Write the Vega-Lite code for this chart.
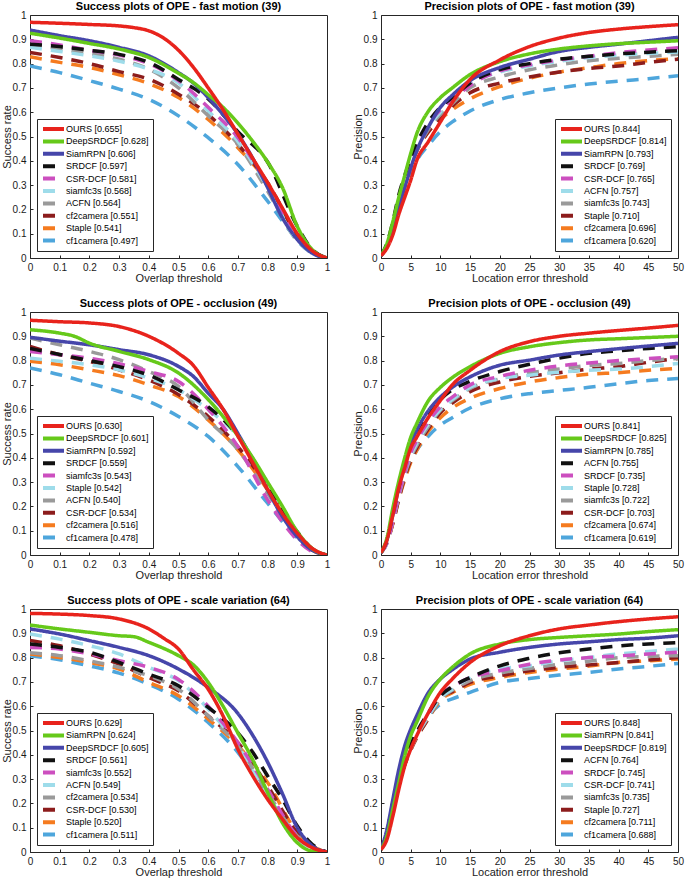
{
"$schema": "https://vega.github.io/schema/vega-lite/v6.json",
"padding": {"left": 0, "top": 0, "right": 0, "bottom": 0},
"config": {
  "font": "Liberation Sans",
  "view": {"stroke": "#262626", "strokeWidth": 1},
  "axis": {"grid": false, "domain": false, "ticks": true, "tickSize": -3, "tickColor": "#262626", "labelPadding": 7, "labelFontSize": 10, "labelColor": "#1a1a1a", "labelFlush": false, "labelOverlap": false, "titleFontSize": 11, "titleFontWeight": "normal", "titleColor": "#1a1a1a", "titlePadding": 0},
  "title": {"fontSize": 11, "fontWeight": "bold", "color": "#000000", "offset": -2},
  "legend": {"title": null, "fillColor": "white", "strokeColor": "#262626", "padding": 4, "labelFontSize": 9, "labelColor": "#000000", "symbolType": "M-1,0H4.25", "symbolSize": 64, "symbolStrokeWidth": 4, "labelOffset": 13, "clipHeight": 12, "rowPadding": 0.4, "offset": 7}
},
"datasets": {
"p1": [
{"s":"cf1camera [0.497]","x":0,"y":0.79},{"s":"cf1camera [0.497]","x":0.1,"y":0.763},{"s":"cf1camera [0.497]","x":0.2,"y":0.73},{"s":"cf1camera [0.497]","x":0.3,"y":0.695},{"s":"cf1camera [0.497]","x":0.4,"y":0.653},{"s":"cf1camera [0.497]","x":0.5,"y":0.585},{"s":"cf1camera [0.497]","x":0.6,"y":0.495},{"s":"cf1camera [0.497]","x":0.7,"y":0.385},{"s":"cf1camera [0.497]","x":0.8,"y":0.234},{"s":"cf1camera [0.497]","x":0.9,"y":0.076},{"s":"cf1camera [0.497]","x":0.95,"y":0.02},{"s":"cf1camera [0.497]","x":1,"y":0},
{"s":"Staple [0.541]","x":0,"y":0.828},{"s":"Staple [0.541]","x":0.1,"y":0.805},{"s":"Staple [0.541]","x":0.2,"y":0.784},{"s":"Staple [0.541]","x":0.3,"y":0.754},{"s":"Staple [0.541]","x":0.4,"y":0.718},{"s":"Staple [0.541]","x":0.5,"y":0.66},{"s":"Staple [0.541]","x":0.6,"y":0.57},{"s":"Staple [0.541]","x":0.7,"y":0.454},{"s":"Staple [0.541]","x":0.8,"y":0.31},{"s":"Staple [0.541]","x":0.9,"y":0.096},{"s":"Staple [0.541]","x":0.95,"y":0.03},{"s":"Staple [0.541]","x":1,"y":0},
{"s":"cf2camera [0.551]","x":0,"y":0.846},{"s":"cf2camera [0.551]","x":0.1,"y":0.825},{"s":"cf2camera [0.551]","x":0.2,"y":0.8},{"s":"cf2camera [0.551]","x":0.3,"y":0.767},{"s":"cf2camera [0.551]","x":0.4,"y":0.736},{"s":"cf2camera [0.551]","x":0.5,"y":0.674},{"s":"cf2camera [0.551]","x":0.6,"y":0.59},{"s":"cf2camera [0.551]","x":0.7,"y":0.468},{"s":"cf2camera [0.551]","x":0.8,"y":0.31},{"s":"cf2camera [0.551]","x":0.9,"y":0.096},{"s":"cf2camera [0.551]","x":0.95,"y":0.03},{"s":"cf2camera [0.551]","x":1,"y":0},
{"s":"ACFN [0.564]","x":0,"y":0.88},{"s":"ACFN [0.564]","x":0.1,"y":0.86},{"s":"ACFN [0.564]","x":0.2,"y":0.842},{"s":"ACFN [0.564]","x":0.3,"y":0.818},{"s":"ACFN [0.564]","x":0.4,"y":0.777},{"s":"ACFN [0.564]","x":0.5,"y":0.7},{"s":"ACFN [0.564]","x":0.6,"y":0.585},{"s":"ACFN [0.564]","x":0.7,"y":0.468},{"s":"ACFN [0.564]","x":0.8,"y":0.275},{"s":"ACFN [0.564]","x":0.9,"y":0.07},{"s":"ACFN [0.564]","x":0.95,"y":0.02},{"s":"ACFN [0.564]","x":1,"y":0},
{"s":"siamfc3s [0.568]","x":0,"y":0.867},{"s":"siamfc3s [0.568]","x":0.1,"y":0.85},{"s":"siamfc3s [0.568]","x":0.2,"y":0.832},{"s":"siamfc3s [0.568]","x":0.3,"y":0.81},{"s":"siamfc3s [0.568]","x":0.4,"y":0.777},{"s":"siamfc3s [0.568]","x":0.5,"y":0.72},{"s":"siamfc3s [0.568]","x":0.6,"y":0.605},{"s":"siamfc3s [0.568]","x":0.7,"y":0.48},{"s":"siamfc3s [0.568]","x":0.8,"y":0.29},{"s":"siamfc3s [0.568]","x":0.9,"y":0.07},{"s":"siamfc3s [0.568]","x":0.95,"y":0.02},{"s":"siamfc3s [0.568]","x":1,"y":0},
{"s":"CSR-DCF [0.581]","x":0,"y":0.894},{"s":"CSR-DCF [0.581]","x":0.1,"y":0.877},{"s":"CSR-DCF [0.581]","x":0.2,"y":0.855},{"s":"CSR-DCF [0.581]","x":0.3,"y":0.835},{"s":"CSR-DCF [0.581]","x":0.4,"y":0.8},{"s":"CSR-DCF [0.581]","x":0.5,"y":0.73},{"s":"CSR-DCF [0.581]","x":0.6,"y":0.62},{"s":"CSR-DCF [0.581]","x":0.7,"y":0.495},{"s":"CSR-DCF [0.581]","x":0.8,"y":0.3},{"s":"CSR-DCF [0.581]","x":0.9,"y":0.096},{"s":"CSR-DCF [0.581]","x":0.95,"y":0.03},{"s":"CSR-DCF [0.581]","x":1,"y":0},
{"s":"SRDCF [0.597]","x":0,"y":0.88},{"s":"SRDCF [0.597]","x":0.1,"y":0.87},{"s":"SRDCF [0.597]","x":0.2,"y":0.855},{"s":"SRDCF [0.597]","x":0.3,"y":0.838},{"s":"SRDCF [0.597]","x":0.4,"y":0.805},{"s":"SRDCF [0.597]","x":0.5,"y":0.735},{"s":"SRDCF [0.597]","x":0.6,"y":0.655},{"s":"SRDCF [0.597]","x":0.7,"y":0.52},{"s":"SRDCF [0.597]","x":0.8,"y":0.395},{"s":"SRDCF [0.597]","x":0.9,"y":0.13},{"s":"SRDCF [0.597]","x":0.95,"y":0.035},{"s":"SRDCF [0.597]","x":1,"y":0},
{"s":"SiamRPN [0.606]","x":0,"y":0.938},{"s":"SiamRPN [0.606]","x":0.1,"y":0.915},{"s":"SiamRPN [0.606]","x":0.2,"y":0.894},{"s":"SiamRPN [0.606]","x":0.3,"y":0.867},{"s":"SiamRPN [0.606]","x":0.4,"y":0.832},{"s":"SiamRPN [0.606]","x":0.5,"y":0.763},{"s":"SiamRPN [0.606]","x":0.55,"y":0.72},{"s":"SiamRPN [0.606]","x":0.6,"y":0.66},{"s":"SiamRPN [0.606]","x":0.65,"y":0.59},{"s":"SiamRPN [0.606]","x":0.7,"y":0.51},{"s":"SiamRPN [0.606]","x":0.75,"y":0.41},{"s":"SiamRPN [0.606]","x":0.8,"y":0.29},{"s":"SiamRPN [0.606]","x":0.85,"y":0.165},{"s":"SiamRPN [0.606]","x":0.9,"y":0.076},{"s":"SiamRPN [0.606]","x":0.95,"y":0.02},{"s":"SiamRPN [0.606]","x":1,"y":0},
{"s":"DeepSRDCF [0.628]","x":0,"y":0.925},{"s":"DeepSRDCF [0.628]","x":0.1,"y":0.905},{"s":"DeepSRDCF [0.628]","x":0.2,"y":0.883},{"s":"DeepSRDCF [0.628]","x":0.3,"y":0.86},{"s":"DeepSRDCF [0.628]","x":0.4,"y":0.825},{"s":"DeepSRDCF [0.628]","x":0.5,"y":0.76},{"s":"DeepSRDCF [0.628]","x":0.55,"y":0.722},{"s":"DeepSRDCF [0.628]","x":0.6,"y":0.672},{"s":"DeepSRDCF [0.628]","x":0.65,"y":0.62},{"s":"DeepSRDCF [0.628]","x":0.7,"y":0.555},{"s":"DeepSRDCF [0.628]","x":0.75,"y":0.48},{"s":"DeepSRDCF [0.628]","x":0.8,"y":0.395},{"s":"DeepSRDCF [0.628]","x":0.85,"y":0.29},{"s":"DeepSRDCF [0.628]","x":0.9,"y":0.13},{"s":"DeepSRDCF [0.628]","x":0.95,"y":0.035},{"s":"DeepSRDCF [0.628]","x":1,"y":0},
{"s":"OURS [0.655]","x":0,"y":0.97},{"s":"OURS [0.655]","x":0.1,"y":0.966},{"s":"OURS [0.655]","x":0.2,"y":0.961},{"s":"OURS [0.655]","x":0.3,"y":0.955},{"s":"OURS [0.655]","x":0.35,"y":0.948},{"s":"OURS [0.655]","x":0.4,"y":0.935},{"s":"OURS [0.655]","x":0.45,"y":0.905},{"s":"OURS [0.655]","x":0.5,"y":0.855},{"s":"OURS [0.655]","x":0.55,"y":0.785},{"s":"OURS [0.655]","x":0.6,"y":0.7},{"s":"OURS [0.655]","x":0.65,"y":0.61},{"s":"OURS [0.655]","x":0.7,"y":0.51},{"s":"OURS [0.655]","x":0.75,"y":0.41},{"s":"OURS [0.655]","x":0.8,"y":0.31},{"s":"OURS [0.655]","x":0.85,"y":0.205},{"s":"OURS [0.655]","x":0.9,"y":0.1},{"s":"OURS [0.655]","x":0.95,"y":0.03},{"s":"OURS [0.655]","x":1,"y":0}
],
"p2": [
{"s":"cf1camera [0.620]","x":0,"y":0.01},{"s":"cf1camera [0.620]","x":1,"y":0.05},{"s":"cf1camera [0.620]","x":2,"y":0.13},{"s":"cf1camera [0.620]","x":3,"y":0.22},{"s":"cf1camera [0.620]","x":4,"y":0.29},{"s":"cf1camera [0.620]","x":5,"y":0.35},{"s":"cf1camera [0.620]","x":6,"y":0.4},{"s":"cf1camera [0.620]","x":8,"y":0.465},{"s":"cf1camera [0.620]","x":10,"y":0.52},{"s":"cf1camera [0.620]","x":12,"y":0.56},{"s":"cf1camera [0.620]","x":15,"y":0.605},{"s":"cf1camera [0.620]","x":20,"y":0.652},{"s":"cf1camera [0.620]","x":25,"y":0.68},{"s":"cf1camera [0.620]","x":30,"y":0.7},{"s":"cf1camera [0.620]","x":35,"y":0.716},{"s":"cf1camera [0.620]","x":40,"y":0.728},{"s":"cf1camera [0.620]","x":45,"y":0.738},{"s":"cf1camera [0.620]","x":50,"y":0.75},
{"s":"cf2camera [0.696]","x":0,"y":0.01},{"s":"cf2camera [0.696]","x":1,"y":0.05},{"s":"cf2camera [0.696]","x":2,"y":0.13},{"s":"cf2camera [0.696]","x":3,"y":0.23},{"s":"cf2camera [0.696]","x":4,"y":0.31},{"s":"cf2camera [0.696]","x":5,"y":0.38},{"s":"cf2camera [0.696]","x":6,"y":0.44},{"s":"cf2camera [0.696]","x":8,"y":0.52},{"s":"cf2camera [0.696]","x":10,"y":0.57},{"s":"cf2camera [0.696]","x":12,"y":0.61},{"s":"cf2camera [0.696]","x":15,"y":0.655},{"s":"cf2camera [0.696]","x":20,"y":0.705},{"s":"cf2camera [0.696]","x":25,"y":0.74},{"s":"cf2camera [0.696]","x":30,"y":0.765},{"s":"cf2camera [0.696]","x":35,"y":0.783},{"s":"cf2camera [0.696]","x":40,"y":0.8},{"s":"cf2camera [0.696]","x":45,"y":0.812},{"s":"cf2camera [0.696]","x":50,"y":0.82},
{"s":"Staple [0.710]","x":0,"y":0.01},{"s":"Staple [0.710]","x":1,"y":0.05},{"s":"Staple [0.710]","x":2,"y":0.13},{"s":"Staple [0.710]","x":3,"y":0.23},{"s":"Staple [0.710]","x":4,"y":0.31},{"s":"Staple [0.710]","x":5,"y":0.38},{"s":"Staple [0.710]","x":6,"y":0.44},{"s":"Staple [0.710]","x":8,"y":0.52},{"s":"Staple [0.710]","x":10,"y":0.575},{"s":"Staple [0.710]","x":12,"y":0.625},{"s":"Staple [0.710]","x":15,"y":0.68},{"s":"Staple [0.710]","x":20,"y":0.72},{"s":"Staple [0.710]","x":25,"y":0.745},{"s":"Staple [0.710]","x":30,"y":0.765},{"s":"Staple [0.710]","x":35,"y":0.78},{"s":"Staple [0.710]","x":40,"y":0.79},{"s":"Staple [0.710]","x":45,"y":0.805},{"s":"Staple [0.710]","x":50,"y":0.818},
{"s":"siamfc3s [0.743]","x":0,"y":0.01},{"s":"siamfc3s [0.743]","x":1,"y":0.05},{"s":"siamfc3s [0.743]","x":2,"y":0.13},{"s":"siamfc3s [0.743]","x":3,"y":0.23},{"s":"siamfc3s [0.743]","x":4,"y":0.31},{"s":"siamfc3s [0.743]","x":5,"y":0.38},{"s":"siamfc3s [0.743]","x":6,"y":0.44},{"s":"siamfc3s [0.743]","x":8,"y":0.53},{"s":"siamfc3s [0.743]","x":10,"y":0.59},{"s":"siamfc3s [0.743]","x":12,"y":0.635},{"s":"siamfc3s [0.743]","x":15,"y":0.7},{"s":"siamfc3s [0.743]","x":20,"y":0.745},{"s":"siamfc3s [0.743]","x":25,"y":0.775},{"s":"siamfc3s [0.743]","x":30,"y":0.795},{"s":"siamfc3s [0.743]","x":35,"y":0.812},{"s":"siamfc3s [0.743]","x":40,"y":0.822},{"s":"siamfc3s [0.743]","x":45,"y":0.83},{"s":"siamfc3s [0.743]","x":50,"y":0.838},
{"s":"ACFN [0.757]","x":0,"y":0.01},{"s":"ACFN [0.757]","x":1,"y":0.05},{"s":"ACFN [0.757]","x":2,"y":0.13},{"s":"ACFN [0.757]","x":3,"y":0.24},{"s":"ACFN [0.757]","x":4,"y":0.32},{"s":"ACFN [0.757]","x":5,"y":0.39},{"s":"ACFN [0.757]","x":6,"y":0.45},{"s":"ACFN [0.757]","x":8,"y":0.54},{"s":"ACFN [0.757]","x":10,"y":0.6},{"s":"ACFN [0.757]","x":12,"y":0.65},{"s":"ACFN [0.757]","x":15,"y":0.715},{"s":"ACFN [0.757]","x":20,"y":0.765},{"s":"ACFN [0.757]","x":25,"y":0.79},{"s":"ACFN [0.757]","x":30,"y":0.81},{"s":"ACFN [0.757]","x":35,"y":0.825},{"s":"ACFN [0.757]","x":40,"y":0.835},{"s":"ACFN [0.757]","x":45,"y":0.842},{"s":"ACFN [0.757]","x":50,"y":0.848},
{"s":"CSR-DCF [0.765]","x":0,"y":0.01},{"s":"CSR-DCF [0.765]","x":1,"y":0.05},{"s":"CSR-DCF [0.765]","x":2,"y":0.14},{"s":"CSR-DCF [0.765]","x":3,"y":0.25},{"s":"CSR-DCF [0.765]","x":4,"y":0.33},{"s":"CSR-DCF [0.765]","x":5,"y":0.4},{"s":"CSR-DCF [0.765]","x":6,"y":0.46},{"s":"CSR-DCF [0.765]","x":8,"y":0.55},{"s":"CSR-DCF [0.765]","x":10,"y":0.61},{"s":"CSR-DCF [0.765]","x":12,"y":0.65},{"s":"CSR-DCF [0.765]","x":15,"y":0.71},{"s":"CSR-DCF [0.765]","x":20,"y":0.77},{"s":"CSR-DCF [0.765]","x":25,"y":0.795},{"s":"CSR-DCF [0.765]","x":30,"y":0.815},{"s":"CSR-DCF [0.765]","x":35,"y":0.83},{"s":"CSR-DCF [0.765]","x":40,"y":0.845},{"s":"CSR-DCF [0.765]","x":45,"y":0.856},{"s":"CSR-DCF [0.765]","x":50,"y":0.865},
{"s":"SRDCF [0.769]","x":0,"y":0.01},{"s":"SRDCF [0.769]","x":1,"y":0.06},{"s":"SRDCF [0.769]","x":2,"y":0.15},{"s":"SRDCF [0.769]","x":3,"y":0.26},{"s":"SRDCF [0.769]","x":4,"y":0.34},{"s":"SRDCF [0.769]","x":5,"y":0.41},{"s":"SRDCF [0.769]","x":6,"y":0.47},{"s":"SRDCF [0.769]","x":8,"y":0.56},{"s":"SRDCF [0.769]","x":10,"y":0.62},{"s":"SRDCF [0.769]","x":12,"y":0.66},{"s":"SRDCF [0.769]","x":15,"y":0.72},{"s":"SRDCF [0.769]","x":20,"y":0.775},{"s":"SRDCF [0.769]","x":25,"y":0.8},{"s":"SRDCF [0.769]","x":30,"y":0.818},{"s":"SRDCF [0.769]","x":35,"y":0.83},{"s":"SRDCF [0.769]","x":40,"y":0.84},{"s":"SRDCF [0.769]","x":45,"y":0.847},{"s":"SRDCF [0.769]","x":50,"y":0.853},
{"s":"SiamRPN [0.793]","x":0,"y":0.01},{"s":"SiamRPN [0.793]","x":1,"y":0.05},{"s":"SiamRPN [0.793]","x":2,"y":0.124},{"s":"SiamRPN [0.793]","x":3,"y":0.21},{"s":"SiamRPN [0.793]","x":4,"y":0.29},{"s":"SiamRPN [0.793]","x":5,"y":0.37},{"s":"SiamRPN [0.793]","x":6,"y":0.44},{"s":"SiamRPN [0.793]","x":8,"y":0.54},{"s":"SiamRPN [0.793]","x":10,"y":0.62},{"s":"SiamRPN [0.793]","x":12,"y":0.67},{"s":"SiamRPN [0.793]","x":15,"y":0.73},{"s":"SiamRPN [0.793]","x":20,"y":0.784},{"s":"SiamRPN [0.793]","x":25,"y":0.818},{"s":"SiamRPN [0.793]","x":30,"y":0.85},{"s":"SiamRPN [0.793]","x":35,"y":0.867},{"s":"SiamRPN [0.793]","x":40,"y":0.88},{"s":"SiamRPN [0.793]","x":45,"y":0.894},{"s":"SiamRPN [0.793]","x":50,"y":0.908},
{"s":"DeepSRDCF [0.814]","x":0,"y":0.01},{"s":"DeepSRDCF [0.814]","x":1,"y":0.06},{"s":"DeepSRDCF [0.814]","x":2,"y":0.15},{"s":"DeepSRDCF [0.814]","x":3,"y":0.25},{"s":"DeepSRDCF [0.814]","x":4,"y":0.34},{"s":"DeepSRDCF [0.814]","x":5,"y":0.43},{"s":"DeepSRDCF [0.814]","x":6,"y":0.51},{"s":"DeepSRDCF [0.814]","x":8,"y":0.605},{"s":"DeepSRDCF [0.814]","x":10,"y":0.66},{"s":"DeepSRDCF [0.814]","x":12,"y":0.7},{"s":"DeepSRDCF [0.814]","x":15,"y":0.755},{"s":"DeepSRDCF [0.814]","x":20,"y":0.808},{"s":"DeepSRDCF [0.814]","x":25,"y":0.84},{"s":"DeepSRDCF [0.814]","x":30,"y":0.86},{"s":"DeepSRDCF [0.814]","x":35,"y":0.873},{"s":"DeepSRDCF [0.814]","x":40,"y":0.882},{"s":"DeepSRDCF [0.814]","x":45,"y":0.888},{"s":"DeepSRDCF [0.814]","x":50,"y":0.894},
{"s":"OURS [0.844]","x":0,"y":0.01},{"s":"OURS [0.844]","x":1,"y":0.04},{"s":"OURS [0.844]","x":2,"y":0.096},{"s":"OURS [0.844]","x":3,"y":0.18},{"s":"OURS [0.844]","x":4,"y":0.25},{"s":"OURS [0.844]","x":5,"y":0.32},{"s":"OURS [0.844]","x":6,"y":0.4},{"s":"OURS [0.844]","x":8,"y":0.48},{"s":"OURS [0.844]","x":10,"y":0.56},{"s":"OURS [0.844]","x":12,"y":0.64},{"s":"OURS [0.844]","x":15,"y":0.735},{"s":"OURS [0.844]","x":20,"y":0.815},{"s":"OURS [0.844]","x":25,"y":0.87},{"s":"OURS [0.844]","x":30,"y":0.905},{"s":"OURS [0.844]","x":35,"y":0.928},{"s":"OURS [0.844]","x":40,"y":0.942},{"s":"OURS [0.844]","x":45,"y":0.952},{"s":"OURS [0.844]","x":50,"y":0.96}
],
"p3": [
{"s":"cf1camera [0.478]","x":0,"y":0.77},{"s":"cf1camera [0.478]","x":0.1,"y":0.742},{"s":"cf1camera [0.478]","x":0.2,"y":0.707},{"s":"cf1camera [0.478]","x":0.3,"y":0.673},{"s":"cf1camera [0.478]","x":0.4,"y":0.632},{"s":"cf1camera [0.478]","x":0.5,"y":0.57},{"s":"cf1camera [0.478]","x":0.6,"y":0.488},{"s":"cf1camera [0.478]","x":0.7,"y":0.364},{"s":"cf1camera [0.478]","x":0.8,"y":0.213},{"s":"cf1camera [0.478]","x":0.9,"y":0.069},{"s":"cf1camera [0.478]","x":0.95,"y":0.02},{"s":"cf1camera [0.478]","x":1,"y":0},
{"s":"cf2camera [0.516]","x":0,"y":0.797},{"s":"cf2camera [0.516]","x":0.1,"y":0.783},{"s":"cf2camera [0.516]","x":0.2,"y":0.762},{"s":"cf2camera [0.516]","x":0.3,"y":0.738},{"s":"cf2camera [0.516]","x":0.4,"y":0.7},{"s":"cf2camera [0.516]","x":0.5,"y":0.652},{"s":"cf2camera [0.516]","x":0.6,"y":0.556},{"s":"cf2camera [0.516]","x":0.7,"y":0.433},{"s":"cf2camera [0.516]","x":0.8,"y":0.268},{"s":"cf2camera [0.516]","x":0.9,"y":0.082},{"s":"cf2camera [0.516]","x":0.95,"y":0.02},{"s":"cf2camera [0.516]","x":1,"y":0},
{"s":"CSR-DCF [0.534]","x":0,"y":0.858},{"s":"CSR-DCF [0.534]","x":0.1,"y":0.824},{"s":"CSR-DCF [0.534]","x":0.2,"y":0.797},{"s":"CSR-DCF [0.534]","x":0.3,"y":0.762},{"s":"CSR-DCF [0.534]","x":0.4,"y":0.72},{"s":"CSR-DCF [0.534]","x":0.5,"y":0.66},{"s":"CSR-DCF [0.534]","x":0.6,"y":0.57},{"s":"CSR-DCF [0.534]","x":0.7,"y":0.446},{"s":"CSR-DCF [0.534]","x":0.8,"y":0.28},{"s":"CSR-DCF [0.534]","x":0.9,"y":0.09},{"s":"CSR-DCF [0.534]","x":0.95,"y":0.025},{"s":"CSR-DCF [0.534]","x":1,"y":0},
{"s":"ACFN [0.540]","x":0,"y":0.893},{"s":"ACFN [0.540]","x":0.1,"y":0.865},{"s":"ACFN [0.540]","x":0.2,"y":0.838},{"s":"ACFN [0.540]","x":0.3,"y":0.804},{"s":"ACFN [0.540]","x":0.4,"y":0.755},{"s":"ACFN [0.540]","x":0.5,"y":0.694},{"s":"ACFN [0.540]","x":0.6,"y":0.556},{"s":"ACFN [0.540]","x":0.7,"y":0.433},{"s":"ACFN [0.540]","x":0.8,"y":0.254},{"s":"ACFN [0.540]","x":0.9,"y":0.069},{"s":"ACFN [0.540]","x":0.95,"y":0.02},{"s":"ACFN [0.540]","x":1,"y":0},
{"s":"Staple [0.542]","x":0,"y":0.81},{"s":"Staple [0.542]","x":0.1,"y":0.797},{"s":"Staple [0.542]","x":0.2,"y":0.783},{"s":"Staple [0.542]","x":0.3,"y":0.762},{"s":"Staple [0.542]","x":0.4,"y":0.728},{"s":"Staple [0.542]","x":0.5,"y":0.68},{"s":"Staple [0.542]","x":0.6,"y":0.598},{"s":"Staple [0.542]","x":0.7,"y":0.488},{"s":"Staple [0.542]","x":0.8,"y":0.295},{"s":"Staple [0.542]","x":0.9,"y":0.09},{"s":"Staple [0.542]","x":0.95,"y":0.025},{"s":"Staple [0.542]","x":1,"y":0},
{"s":"siamfc3s [0.543]","x":0,"y":0.838},{"s":"siamfc3s [0.543]","x":0.1,"y":0.824},{"s":"siamfc3s [0.543]","x":0.2,"y":0.81},{"s":"siamfc3s [0.543]","x":0.3,"y":0.787},{"s":"siamfc3s [0.543]","x":0.4,"y":0.755},{"s":"siamfc3s [0.543]","x":0.5,"y":0.714},{"s":"siamfc3s [0.543]","x":0.6,"y":0.6},{"s":"siamfc3s [0.543]","x":0.7,"y":0.446},{"s":"siamfc3s [0.543]","x":0.8,"y":0.227},{"s":"siamfc3s [0.543]","x":0.9,"y":0.062},{"s":"siamfc3s [0.543]","x":0.95,"y":0.014},{"s":"siamfc3s [0.543]","x":1,"y":0},
{"s":"SRDCF [0.559]","x":0,"y":0.85},{"s":"SRDCF [0.559]","x":0.1,"y":0.825},{"s":"SRDCF [0.559]","x":0.2,"y":0.8},{"s":"SRDCF [0.559]","x":0.3,"y":0.775},{"s":"SRDCF [0.559]","x":0.4,"y":0.74},{"s":"SRDCF [0.559]","x":0.5,"y":0.68},{"s":"SRDCF [0.559]","x":0.6,"y":0.61},{"s":"SRDCF [0.559]","x":0.7,"y":0.49},{"s":"SRDCF [0.559]","x":0.8,"y":0.29},{"s":"SRDCF [0.559]","x":0.9,"y":0.095},{"s":"SRDCF [0.559]","x":0.95,"y":0.025},{"s":"SRDCF [0.559]","x":1,"y":0},
{"s":"SiamRPN [0.592]","x":0,"y":0.896},{"s":"SiamRPN [0.592]","x":0.1,"y":0.88},{"s":"SiamRPN [0.592]","x":0.2,"y":0.865},{"s":"SiamRPN [0.592]","x":0.3,"y":0.845},{"s":"SiamRPN [0.592]","x":0.4,"y":0.824},{"s":"SiamRPN [0.592]","x":0.5,"y":0.776},{"s":"SiamRPN [0.592]","x":0.55,"y":0.735},{"s":"SiamRPN [0.592]","x":0.6,"y":0.666},{"s":"SiamRPN [0.592]","x":0.65,"y":0.6},{"s":"SiamRPN [0.592]","x":0.7,"y":0.5},{"s":"SiamRPN [0.592]","x":0.75,"y":0.39},{"s":"SiamRPN [0.592]","x":0.8,"y":0.268},{"s":"SiamRPN [0.592]","x":0.85,"y":0.158},{"s":"SiamRPN [0.592]","x":0.9,"y":0.075},{"s":"SiamRPN [0.592]","x":0.95,"y":0.02},{"s":"SiamRPN [0.592]","x":1,"y":0},
{"s":"DeepSRDCF [0.601]","x":0,"y":0.927},{"s":"DeepSRDCF [0.601]","x":0.1,"y":0.913},{"s":"DeepSRDCF [0.601]","x":0.15,"y":0.9},{"s":"DeepSRDCF [0.601]","x":0.2,"y":0.872},{"s":"DeepSRDCF [0.601]","x":0.3,"y":0.838},{"s":"DeepSRDCF [0.601]","x":0.4,"y":0.804},{"s":"DeepSRDCF [0.601]","x":0.5,"y":0.749},{"s":"DeepSRDCF [0.601]","x":0.6,"y":0.64},{"s":"DeepSRDCF [0.601]","x":0.7,"y":0.49},{"s":"DeepSRDCF [0.601]","x":0.75,"y":0.4},{"s":"DeepSRDCF [0.601]","x":0.8,"y":0.3},{"s":"DeepSRDCF [0.601]","x":0.85,"y":0.2},{"s":"DeepSRDCF [0.601]","x":0.9,"y":0.096},{"s":"DeepSRDCF [0.601]","x":0.95,"y":0.027},{"s":"DeepSRDCF [0.601]","x":1,"y":0},
{"s":"OURS [0.630]","x":0,"y":0.966},{"s":"OURS [0.630]","x":0.1,"y":0.96},{"s":"OURS [0.630]","x":0.2,"y":0.955},{"s":"OURS [0.630]","x":0.3,"y":0.94},{"s":"OURS [0.630]","x":0.4,"y":0.9},{"s":"OURS [0.630]","x":0.5,"y":0.83},{"s":"OURS [0.630]","x":0.55,"y":0.78},{"s":"OURS [0.630]","x":0.6,"y":0.69},{"s":"OURS [0.630]","x":0.65,"y":0.6},{"s":"OURS [0.630]","x":0.7,"y":0.49},{"s":"OURS [0.630]","x":0.75,"y":0.38},{"s":"OURS [0.630]","x":0.8,"y":0.27},{"s":"OURS [0.630]","x":0.85,"y":0.17},{"s":"OURS [0.630]","x":0.9,"y":0.09},{"s":"OURS [0.630]","x":0.95,"y":0.027},{"s":"OURS [0.630]","x":1,"y":0}
],
"p4": [
{"s":"cf1camera [0.619]","x":0,"y":0.01},{"s":"cf1camera [0.619]","x":1,"y":0.05},{"s":"cf1camera [0.619]","x":2,"y":0.15},{"s":"cf1camera [0.619]","x":3,"y":0.26},{"s":"cf1camera [0.619]","x":4,"y":0.33},{"s":"cf1camera [0.619]","x":5,"y":0.385},{"s":"cf1camera [0.619]","x":6,"y":0.43},{"s":"cf1camera [0.619]","x":8,"y":0.49},{"s":"cf1camera [0.619]","x":10,"y":0.535},{"s":"cf1camera [0.619]","x":12,"y":0.565},{"s":"cf1camera [0.619]","x":15,"y":0.605},{"s":"cf1camera [0.619]","x":20,"y":0.643},{"s":"cf1camera [0.619]","x":25,"y":0.664},{"s":"cf1camera [0.619]","x":30,"y":0.677},{"s":"cf1camera [0.619]","x":35,"y":0.69},{"s":"cf1camera [0.619]","x":40,"y":0.705},{"s":"cf1camera [0.619]","x":45,"y":0.718},{"s":"cf1camera [0.619]","x":50,"y":0.726},
{"s":"cf2camera [0.674]","x":0,"y":0.01},{"s":"cf2camera [0.674]","x":1,"y":0.05},{"s":"cf2camera [0.674]","x":2,"y":0.13},{"s":"cf2camera [0.674]","x":3,"y":0.23},{"s":"cf2camera [0.674]","x":4,"y":0.31},{"s":"cf2camera [0.674]","x":5,"y":0.38},{"s":"cf2camera [0.674]","x":6,"y":0.43},{"s":"cf2camera [0.674]","x":8,"y":0.51},{"s":"cf2camera [0.674]","x":10,"y":0.565},{"s":"cf2camera [0.674]","x":12,"y":0.605},{"s":"cf2camera [0.674]","x":15,"y":0.645},{"s":"cf2camera [0.674]","x":20,"y":0.685},{"s":"cf2camera [0.674]","x":25,"y":0.712},{"s":"cf2camera [0.674]","x":30,"y":0.73},{"s":"cf2camera [0.674]","x":35,"y":0.744},{"s":"cf2camera [0.674]","x":40,"y":0.75},{"s":"cf2camera [0.674]","x":45,"y":0.76},{"s":"cf2camera [0.674]","x":50,"y":0.768},
{"s":"CSR-DCF [0.703]","x":0,"y":0.01},{"s":"CSR-DCF [0.703]","x":1,"y":0.05},{"s":"CSR-DCF [0.703]","x":2,"y":0.13},{"s":"CSR-DCF [0.703]","x":3,"y":0.23},{"s":"CSR-DCF [0.703]","x":4,"y":0.32},{"s":"CSR-DCF [0.703]","x":5,"y":0.39},{"s":"CSR-DCF [0.703]","x":6,"y":0.44},{"s":"CSR-DCF [0.703]","x":8,"y":0.52},{"s":"CSR-DCF [0.703]","x":10,"y":0.585},{"s":"CSR-DCF [0.703]","x":12,"y":0.625},{"s":"CSR-DCF [0.703]","x":15,"y":0.672},{"s":"CSR-DCF [0.703]","x":20,"y":0.712},{"s":"CSR-DCF [0.703]","x":25,"y":0.735},{"s":"CSR-DCF [0.703]","x":30,"y":0.75},{"s":"CSR-DCF [0.703]","x":35,"y":0.765},{"s":"CSR-DCF [0.703]","x":40,"y":0.775},{"s":"CSR-DCF [0.703]","x":45,"y":0.793},{"s":"CSR-DCF [0.703]","x":50,"y":0.809},
{"s":"siamfc3s [0.722]","x":0,"y":0.01},{"s":"siamfc3s [0.722]","x":1,"y":0.05},{"s":"siamfc3s [0.722]","x":2,"y":0.14},{"s":"siamfc3s [0.722]","x":3,"y":0.24},{"s":"siamfc3s [0.722]","x":4,"y":0.33},{"s":"siamfc3s [0.722]","x":5,"y":0.4},{"s":"siamfc3s [0.722]","x":6,"y":0.45},{"s":"siamfc3s [0.722]","x":8,"y":0.53},{"s":"siamfc3s [0.722]","x":10,"y":0.595},{"s":"siamfc3s [0.722]","x":12,"y":0.635},{"s":"siamfc3s [0.722]","x":15,"y":0.685},{"s":"siamfc3s [0.722]","x":20,"y":0.725},{"s":"siamfc3s [0.722]","x":25,"y":0.75},{"s":"siamfc3s [0.722]","x":30,"y":0.765},{"s":"siamfc3s [0.722]","x":35,"y":0.78},{"s":"siamfc3s [0.722]","x":40,"y":0.788},{"s":"siamfc3s [0.722]","x":45,"y":0.8},{"s":"siamfc3s [0.722]","x":50,"y":0.809},
{"s":"Staple [0.728]","x":0,"y":0.01},{"s":"Staple [0.728]","x":1,"y":0.05},{"s":"Staple [0.728]","x":2,"y":0.14},{"s":"Staple [0.728]","x":3,"y":0.25},{"s":"Staple [0.728]","x":4,"y":0.34},{"s":"Staple [0.728]","x":5,"y":0.41},{"s":"Staple [0.728]","x":6,"y":0.46},{"s":"Staple [0.728]","x":8,"y":0.54},{"s":"Staple [0.728]","x":10,"y":0.6},{"s":"Staple [0.728]","x":12,"y":0.64},{"s":"Staple [0.728]","x":15,"y":0.69},{"s":"Staple [0.728]","x":20,"y":0.726},{"s":"Staple [0.728]","x":25,"y":0.74},{"s":"Staple [0.728]","x":30,"y":0.752},{"s":"Staple [0.728]","x":35,"y":0.76},{"s":"Staple [0.728]","x":40,"y":0.765},{"s":"Staple [0.728]","x":45,"y":0.775},{"s":"Staple [0.728]","x":50,"y":0.788},
{"s":"SRDCF [0.735]","x":0,"y":0.01},{"s":"SRDCF [0.735]","x":1,"y":0.05},{"s":"SRDCF [0.735]","x":2,"y":0.14},{"s":"SRDCF [0.735]","x":3,"y":0.25},{"s":"SRDCF [0.735]","x":4,"y":0.34},{"s":"SRDCF [0.735]","x":5,"y":0.42},{"s":"SRDCF [0.735]","x":6,"y":0.47},{"s":"SRDCF [0.735]","x":8,"y":0.55},{"s":"SRDCF [0.735]","x":10,"y":0.61},{"s":"SRDCF [0.735]","x":12,"y":0.65},{"s":"SRDCF [0.735]","x":15,"y":0.7},{"s":"SRDCF [0.735]","x":20,"y":0.735},{"s":"SRDCF [0.735]","x":25,"y":0.76},{"s":"SRDCF [0.735]","x":30,"y":0.778},{"s":"SRDCF [0.735]","x":35,"y":0.79},{"s":"SRDCF [0.735]","x":40,"y":0.8},{"s":"SRDCF [0.735]","x":45,"y":0.808},{"s":"SRDCF [0.735]","x":50,"y":0.816},
{"s":"ACFN [0.755]","x":0,"y":0.01},{"s":"ACFN [0.755]","x":1,"y":0.06},{"s":"ACFN [0.755]","x":2,"y":0.17},{"s":"ACFN [0.755]","x":3,"y":0.28},{"s":"ACFN [0.755]","x":4,"y":0.37},{"s":"ACFN [0.755]","x":5,"y":0.45},{"s":"ACFN [0.755]","x":6,"y":0.5},{"s":"ACFN [0.755]","x":8,"y":0.58},{"s":"ACFN [0.755]","x":10,"y":0.64},{"s":"ACFN [0.755]","x":12,"y":0.68},{"s":"ACFN [0.755]","x":15,"y":0.715},{"s":"ACFN [0.755]","x":20,"y":0.755},{"s":"ACFN [0.755]","x":25,"y":0.785},{"s":"ACFN [0.755]","x":30,"y":0.81},{"s":"ACFN [0.755]","x":35,"y":0.83},{"s":"ACFN [0.755]","x":40,"y":0.84},{"s":"ACFN [0.755]","x":45,"y":0.85},{"s":"ACFN [0.755]","x":50,"y":0.858},
{"s":"SiamRPN [0.785]","x":0,"y":0.01},{"s":"SiamRPN [0.785]","x":1,"y":0.062},{"s":"SiamRPN [0.785]","x":2,"y":0.166},{"s":"SiamRPN [0.785]","x":3,"y":0.277},{"s":"SiamRPN [0.785]","x":4,"y":0.373},{"s":"SiamRPN [0.785]","x":5,"y":0.456},{"s":"SiamRPN [0.785]","x":6,"y":0.512},{"s":"SiamRPN [0.785]","x":8,"y":0.595},{"s":"SiamRPN [0.785]","x":10,"y":0.65},{"s":"SiamRPN [0.785]","x":12,"y":0.69},{"s":"SiamRPN [0.785]","x":15,"y":0.733},{"s":"SiamRPN [0.785]","x":20,"y":0.781},{"s":"SiamRPN [0.785]","x":25,"y":0.802},{"s":"SiamRPN [0.785]","x":30,"y":0.823},{"s":"SiamRPN [0.785]","x":35,"y":0.837},{"s":"SiamRPN [0.785]","x":40,"y":0.849},{"s":"SiamRPN [0.785]","x":45,"y":0.86},{"s":"SiamRPN [0.785]","x":50,"y":0.871},
{"s":"DeepSRDCF [0.825]","x":0,"y":0.01},{"s":"DeepSRDCF [0.825]","x":1,"y":0.07},{"s":"DeepSRDCF [0.825]","x":2,"y":0.194},{"s":"DeepSRDCF [0.825]","x":3,"y":0.304},{"s":"DeepSRDCF [0.825]","x":4,"y":0.4},{"s":"DeepSRDCF [0.825]","x":5,"y":0.484},{"s":"DeepSRDCF [0.825]","x":6,"y":0.54},{"s":"DeepSRDCF [0.825]","x":8,"y":0.636},{"s":"DeepSRDCF [0.825]","x":10,"y":0.69},{"s":"DeepSRDCF [0.825]","x":12,"y":0.73},{"s":"DeepSRDCF [0.825]","x":15,"y":0.775},{"s":"DeepSRDCF [0.825]","x":20,"y":0.83},{"s":"DeepSRDCF [0.825]","x":25,"y":0.857},{"s":"DeepSRDCF [0.825]","x":30,"y":0.874},{"s":"DeepSRDCF [0.825]","x":35,"y":0.885},{"s":"DeepSRDCF [0.825]","x":40,"y":0.89},{"s":"DeepSRDCF [0.825]","x":45,"y":0.895},{"s":"DeepSRDCF [0.825]","x":50,"y":0.9},
{"s":"OURS [0.841]","x":0,"y":0.01},{"s":"OURS [0.841]","x":1,"y":0.062},{"s":"OURS [0.841]","x":2,"y":0.166},{"s":"OURS [0.841]","x":3,"y":0.277},{"s":"OURS [0.841]","x":4,"y":0.36},{"s":"OURS [0.841]","x":5,"y":0.44},{"s":"OURS [0.841]","x":6,"y":0.484},{"s":"OURS [0.841]","x":8,"y":0.567},{"s":"OURS [0.841]","x":10,"y":0.636},{"s":"OURS [0.841]","x":12,"y":0.7},{"s":"OURS [0.841]","x":15,"y":0.76},{"s":"OURS [0.841]","x":20,"y":0.837},{"s":"OURS [0.841]","x":25,"y":0.878},{"s":"OURS [0.841]","x":30,"y":0.9},{"s":"OURS [0.841]","x":35,"y":0.913},{"s":"OURS [0.841]","x":40,"y":0.924},{"s":"OURS [0.841]","x":45,"y":0.934},{"s":"OURS [0.841]","x":50,"y":0.945}
],
"p5": [
{"s":"cf1camera [0.511]","x":0,"y":0.808},{"s":"cf1camera [0.511]","x":0.1,"y":0.791},{"s":"cf1camera [0.511]","x":0.2,"y":0.766},{"s":"cf1camera [0.511]","x":0.3,"y":0.736},{"s":"cf1camera [0.511]","x":0.4,"y":0.69},{"s":"cf1camera [0.511]","x":0.5,"y":0.629},{"s":"cf1camera [0.511]","x":0.6,"y":0.533},{"s":"cf1camera [0.511]","x":0.7,"y":0.41},{"s":"cf1camera [0.511]","x":0.8,"y":0.23},{"s":"cf1camera [0.511]","x":0.9,"y":0.066},{"s":"cf1camera [0.511]","x":0.95,"y":0.02},{"s":"cf1camera [0.511]","x":1,"y":0},
{"s":"Staple [0.520]","x":0,"y":0.815},{"s":"Staple [0.520]","x":0.1,"y":0.8},{"s":"Staple [0.520]","x":0.2,"y":0.78},{"s":"Staple [0.520]","x":0.3,"y":0.753},{"s":"Staple [0.520]","x":0.4,"y":0.698},{"s":"Staple [0.520]","x":0.5,"y":0.643},{"s":"Staple [0.520]","x":0.6,"y":0.547},{"s":"Staple [0.520]","x":0.7,"y":0.437},{"s":"Staple [0.520]","x":0.8,"y":0.286},{"s":"Staple [0.520]","x":0.9,"y":0.08},{"s":"Staple [0.520]","x":0.95,"y":0.025},{"s":"Staple [0.520]","x":1,"y":0},
{"s":"CSR-DCF [0.530]","x":0,"y":0.87},{"s":"CSR-DCF [0.530]","x":0.1,"y":0.849},{"s":"CSR-DCF [0.530]","x":0.2,"y":0.815},{"s":"CSR-DCF [0.530]","x":0.3,"y":0.773},{"s":"CSR-DCF [0.530]","x":0.4,"y":0.718},{"s":"CSR-DCF [0.530]","x":0.5,"y":0.663},{"s":"CSR-DCF [0.530]","x":0.6,"y":0.56},{"s":"CSR-DCF [0.530]","x":0.7,"y":0.45},{"s":"CSR-DCF [0.530]","x":0.8,"y":0.272},{"s":"CSR-DCF [0.530]","x":0.9,"y":0.08},{"s":"CSR-DCF [0.530]","x":0.95,"y":0.025},{"s":"CSR-DCF [0.530]","x":1,"y":0},
{"s":"cf2camera [0.534]","x":0,"y":0.82},{"s":"cf2camera [0.534]","x":0.1,"y":0.808},{"s":"cf2camera [0.534]","x":0.2,"y":0.787},{"s":"cf2camera [0.534]","x":0.3,"y":0.76},{"s":"cf2camera [0.534]","x":0.4,"y":0.725},{"s":"cf2camera [0.534]","x":0.5,"y":0.67},{"s":"cf2camera [0.534]","x":0.6,"y":0.56},{"s":"cf2camera [0.534]","x":0.7,"y":0.437},{"s":"cf2camera [0.534]","x":0.8,"y":0.245},{"s":"cf2camera [0.534]","x":0.9,"y":0.066},{"s":"cf2camera [0.534]","x":0.95,"y":0.02},{"s":"cf2camera [0.534]","x":1,"y":0},
{"s":"ACFN [0.549]","x":0,"y":0.897},{"s":"ACFN [0.549]","x":0.1,"y":0.876},{"s":"ACFN [0.549]","x":0.2,"y":0.849},{"s":"ACFN [0.549]","x":0.3,"y":0.815},{"s":"ACFN [0.549]","x":0.4,"y":0.76},{"s":"ACFN [0.549]","x":0.5,"y":0.705},{"s":"ACFN [0.549]","x":0.6,"y":0.588},{"s":"ACFN [0.549]","x":0.7,"y":0.437},{"s":"ACFN [0.549]","x":0.8,"y":0.23},{"s":"ACFN [0.549]","x":0.9,"y":0.052},{"s":"ACFN [0.549]","x":0.95,"y":0.015},{"s":"ACFN [0.549]","x":1,"y":0},
{"s":"siamfc3s [0.552]","x":0,"y":0.842},{"s":"siamfc3s [0.552]","x":0.1,"y":0.835},{"s":"siamfc3s [0.552]","x":0.2,"y":0.815},{"s":"siamfc3s [0.552]","x":0.3,"y":0.787},{"s":"siamfc3s [0.552]","x":0.4,"y":0.76},{"s":"siamfc3s [0.552]","x":0.5,"y":0.71},{"s":"siamfc3s [0.552]","x":0.6,"y":0.6},{"s":"siamfc3s [0.552]","x":0.7,"y":0.45},{"s":"siamfc3s [0.552]","x":0.8,"y":0.258},{"s":"siamfc3s [0.552]","x":0.9,"y":0.066},{"s":"siamfc3s [0.552]","x":0.95,"y":0.02},{"s":"siamfc3s [0.552]","x":1,"y":0},
{"s":"SRDCF [0.561]","x":0,"y":0.856},{"s":"SRDCF [0.561]","x":0.1,"y":0.842},{"s":"SRDCF [0.561]","x":0.2,"y":0.822},{"s":"SRDCF [0.561]","x":0.3,"y":0.78},{"s":"SRDCF [0.561]","x":0.4,"y":0.732},{"s":"SRDCF [0.561]","x":0.5,"y":0.684},{"s":"SRDCF [0.561]","x":0.6,"y":0.595},{"s":"SRDCF [0.561]","x":0.7,"y":0.49},{"s":"SRDCF [0.561]","x":0.75,"y":0.41},{"s":"SRDCF [0.561]","x":0.8,"y":0.313},{"s":"SRDCF [0.561]","x":0.85,"y":0.217},{"s":"SRDCF [0.561]","x":0.9,"y":0.107},{"s":"SRDCF [0.561]","x":0.95,"y":0.032},{"s":"SRDCF [0.561]","x":1,"y":0},
{"s":"DeepSRDCF [0.605]","x":0,"y":0.918},{"s":"DeepSRDCF [0.605]","x":0.1,"y":0.897},{"s":"DeepSRDCF [0.605]","x":0.2,"y":0.87},{"s":"DeepSRDCF [0.605]","x":0.3,"y":0.842},{"s":"DeepSRDCF [0.605]","x":0.4,"y":0.808},{"s":"DeepSRDCF [0.605]","x":0.5,"y":0.753},{"s":"DeepSRDCF [0.605]","x":0.6,"y":0.677},{"s":"DeepSRDCF [0.605]","x":0.7,"y":0.57},{"s":"DeepSRDCF [0.605]","x":0.75,"y":0.48},{"s":"DeepSRDCF [0.605]","x":0.8,"y":0.37},{"s":"DeepSRDCF [0.605]","x":0.85,"y":0.24},{"s":"DeepSRDCF [0.605]","x":0.9,"y":0.1},{"s":"DeepSRDCF [0.605]","x":0.95,"y":0.025},{"s":"DeepSRDCF [0.605]","x":1,"y":0},
{"s":"SiamRPN [0.624]","x":0,"y":0.934},{"s":"SiamRPN [0.624]","x":0.1,"y":0.918},{"s":"SiamRPN [0.624]","x":0.2,"y":0.904},{"s":"SiamRPN [0.624]","x":0.3,"y":0.89},{"s":"SiamRPN [0.624]","x":0.35,"y":0.886},{"s":"SiamRPN [0.624]","x":0.4,"y":0.863},{"s":"SiamRPN [0.624]","x":0.5,"y":0.808},{"s":"SiamRPN [0.624]","x":0.55,"y":0.77},{"s":"SiamRPN [0.624]","x":0.6,"y":0.698},{"s":"SiamRPN [0.624]","x":0.65,"y":0.6},{"s":"SiamRPN [0.624]","x":0.7,"y":0.49},{"s":"SiamRPN [0.624]","x":0.75,"y":0.38},{"s":"SiamRPN [0.624]","x":0.8,"y":0.245},{"s":"SiamRPN [0.624]","x":0.85,"y":0.12},{"s":"SiamRPN [0.624]","x":0.9,"y":0.038},{"s":"SiamRPN [0.624]","x":0.95,"y":0.004},{"s":"SiamRPN [0.624]","x":1,"y":0},
{"s":"OURS [0.629]","x":0,"y":0.982},{"s":"OURS [0.629]","x":0.1,"y":0.979},{"s":"OURS [0.629]","x":0.2,"y":0.973},{"s":"OURS [0.629]","x":0.3,"y":0.959},{"s":"OURS [0.629]","x":0.4,"y":0.918},{"s":"OURS [0.629]","x":0.45,"y":0.88},{"s":"OURS [0.629]","x":0.5,"y":0.835},{"s":"OURS [0.629]","x":0.55,"y":0.75},{"s":"OURS [0.629]","x":0.6,"y":0.67},{"s":"OURS [0.629]","x":0.65,"y":0.56},{"s":"OURS [0.629]","x":0.7,"y":0.423},{"s":"OURS [0.629]","x":0.75,"y":0.313},{"s":"OURS [0.629]","x":0.8,"y":0.217},{"s":"OURS [0.629]","x":0.85,"y":0.135},{"s":"OURS [0.629]","x":0.9,"y":0.059},{"s":"OURS [0.629]","x":0.95,"y":0.018},{"s":"OURS [0.629]","x":1,"y":0}
],
"p6": [
{"s":"cf1camera [0.688]","x":0,"y":0.01},{"s":"cf1camera [0.688]","x":1,"y":0.08},{"s":"cf1camera [0.688]","x":2,"y":0.203},{"s":"cf1camera [0.688]","x":3,"y":0.313},{"s":"cf1camera [0.688]","x":4,"y":0.396},{"s":"cf1camera [0.688]","x":5,"y":0.45},{"s":"cf1camera [0.688]","x":6,"y":0.492},{"s":"cf1camera [0.688]","x":8,"y":0.56},{"s":"cf1camera [0.688]","x":10,"y":0.609},{"s":"cf1camera [0.688]","x":12,"y":0.63},{"s":"cf1camera [0.688]","x":15,"y":0.657},{"s":"cf1camera [0.688]","x":20,"y":0.698},{"s":"cf1camera [0.688]","x":25,"y":0.714},{"s":"cf1camera [0.688]","x":30,"y":0.728},{"s":"cf1camera [0.688]","x":35,"y":0.739},{"s":"cf1camera [0.688]","x":40,"y":0.753},{"s":"cf1camera [0.688]","x":45,"y":0.764},{"s":"cf1camera [0.688]","x":50,"y":0.776},
{"s":"cf2camera [0.711]","x":0,"y":0.01},{"s":"cf2camera [0.711]","x":1,"y":0.07},{"s":"cf2camera [0.711]","x":2,"y":0.18},{"s":"cf2camera [0.711]","x":3,"y":0.28},{"s":"cf2camera [0.711]","x":4,"y":0.36},{"s":"cf2camera [0.711]","x":5,"y":0.42},{"s":"cf2camera [0.711]","x":6,"y":0.47},{"s":"cf2camera [0.711]","x":8,"y":0.55},{"s":"cf2camera [0.711]","x":10,"y":0.625},{"s":"cf2camera [0.711]","x":12,"y":0.655},{"s":"cf2camera [0.711]","x":15,"y":0.69},{"s":"cf2camera [0.711]","x":20,"y":0.718},{"s":"cf2camera [0.711]","x":25,"y":0.739},{"s":"cf2camera [0.711]","x":30,"y":0.753},{"s":"cf2camera [0.711]","x":35,"y":0.765},{"s":"cf2camera [0.711]","x":40,"y":0.78},{"s":"cf2camera [0.711]","x":45,"y":0.787},{"s":"cf2camera [0.711]","x":50,"y":0.794},
{"s":"Staple [0.727]","x":0,"y":0.01},{"s":"Staple [0.727]","x":1,"y":0.07},{"s":"Staple [0.727]","x":2,"y":0.18},{"s":"Staple [0.727]","x":3,"y":0.28},{"s":"Staple [0.727]","x":4,"y":0.36},{"s":"Staple [0.727]","x":5,"y":0.42},{"s":"Staple [0.727]","x":6,"y":0.47},{"s":"Staple [0.727]","x":8,"y":0.55},{"s":"Staple [0.727]","x":10,"y":0.636},{"s":"Staple [0.727]","x":12,"y":0.66},{"s":"Staple [0.727]","x":15,"y":0.698},{"s":"Staple [0.727]","x":20,"y":0.725},{"s":"Staple [0.727]","x":25,"y":0.746},{"s":"Staple [0.727]","x":30,"y":0.76},{"s":"Staple [0.727]","x":35,"y":0.77},{"s":"Staple [0.727]","x":40,"y":0.78},{"s":"Staple [0.727]","x":45,"y":0.79},{"s":"Staple [0.727]","x":50,"y":0.8},
{"s":"siamfc3s [0.735]","x":0,"y":0.01},{"s":"siamfc3s [0.735]","x":1,"y":0.07},{"s":"siamfc3s [0.735]","x":2,"y":0.18},{"s":"siamfc3s [0.735]","x":3,"y":0.28},{"s":"siamfc3s [0.735]","x":4,"y":0.36},{"s":"siamfc3s [0.735]","x":5,"y":0.42},{"s":"siamfc3s [0.735]","x":6,"y":0.475},{"s":"siamfc3s [0.735]","x":8,"y":0.555},{"s":"siamfc3s [0.735]","x":10,"y":0.63},{"s":"siamfc3s [0.735]","x":12,"y":0.665},{"s":"siamfc3s [0.735]","x":15,"y":0.705},{"s":"siamfc3s [0.735]","x":20,"y":0.736},{"s":"siamfc3s [0.735]","x":25,"y":0.755},{"s":"siamfc3s [0.735]","x":30,"y":0.773},{"s":"siamfc3s [0.735]","x":35,"y":0.785},{"s":"siamfc3s [0.735]","x":40,"y":0.8},{"s":"siamfc3s [0.735]","x":45,"y":0.805},{"s":"siamfc3s [0.735]","x":50,"y":0.808},
{"s":"CSR-DCF [0.741]","x":0,"y":0.01},{"s":"CSR-DCF [0.741]","x":1,"y":0.075},{"s":"CSR-DCF [0.741]","x":2,"y":0.19},{"s":"CSR-DCF [0.741]","x":3,"y":0.29},{"s":"CSR-DCF [0.741]","x":4,"y":0.37},{"s":"CSR-DCF [0.741]","x":5,"y":0.43},{"s":"CSR-DCF [0.741]","x":6,"y":0.48},{"s":"CSR-DCF [0.741]","x":8,"y":0.56},{"s":"CSR-DCF [0.741]","x":10,"y":0.635},{"s":"CSR-DCF [0.741]","x":12,"y":0.67},{"s":"CSR-DCF [0.741]","x":15,"y":0.718},{"s":"CSR-DCF [0.741]","x":20,"y":0.753},{"s":"CSR-DCF [0.741]","x":25,"y":0.766},{"s":"CSR-DCF [0.741]","x":30,"y":0.787},{"s":"CSR-DCF [0.741]","x":35,"y":0.8},{"s":"CSR-DCF [0.741]","x":40,"y":0.815},{"s":"CSR-DCF [0.741]","x":45,"y":0.825},{"s":"CSR-DCF [0.741]","x":50,"y":0.835},
{"s":"SRDCF [0.745]","x":0,"y":0.01},{"s":"SRDCF [0.745]","x":1,"y":0.08},{"s":"SRDCF [0.745]","x":2,"y":0.2},{"s":"SRDCF [0.745]","x":3,"y":0.3},{"s":"SRDCF [0.745]","x":4,"y":0.38},{"s":"SRDCF [0.745]","x":5,"y":0.44},{"s":"SRDCF [0.745]","x":6,"y":0.49},{"s":"SRDCF [0.745]","x":8,"y":0.57},{"s":"SRDCF [0.745]","x":10,"y":0.65},{"s":"SRDCF [0.745]","x":12,"y":0.68},{"s":"SRDCF [0.745]","x":15,"y":0.718},{"s":"SRDCF [0.745]","x":20,"y":0.746},{"s":"SRDCF [0.745]","x":25,"y":0.773},{"s":"SRDCF [0.745]","x":30,"y":0.79},{"s":"SRDCF [0.745]","x":35,"y":0.8},{"s":"SRDCF [0.745]","x":40,"y":0.807},{"s":"SRDCF [0.745]","x":45,"y":0.815},{"s":"SRDCF [0.745]","x":50,"y":0.822},
{"s":"ACFN [0.764]","x":0,"y":0.01},{"s":"ACFN [0.764]","x":1,"y":0.08},{"s":"ACFN [0.764]","x":2,"y":0.203},{"s":"ACFN [0.764]","x":3,"y":0.3},{"s":"ACFN [0.764]","x":4,"y":0.38},{"s":"ACFN [0.764]","x":5,"y":0.44},{"s":"ACFN [0.764]","x":6,"y":0.492},{"s":"ACFN [0.764]","x":8,"y":0.574},{"s":"ACFN [0.764]","x":10,"y":0.643},{"s":"ACFN [0.764]","x":12,"y":0.68},{"s":"ACFN [0.764]","x":15,"y":0.718},{"s":"ACFN [0.764]","x":20,"y":0.766},{"s":"ACFN [0.764]","x":25,"y":0.797},{"s":"ACFN [0.764]","x":30,"y":0.82},{"s":"ACFN [0.764]","x":35,"y":0.835},{"s":"ACFN [0.764]","x":40,"y":0.848},{"s":"ACFN [0.764]","x":45,"y":0.856},{"s":"ACFN [0.764]","x":50,"y":0.862},
{"s":"DeepSRDCF [0.819]","x":0,"y":0.01},{"s":"DeepSRDCF [0.819]","x":1,"y":0.093},{"s":"DeepSRDCF [0.819]","x":2,"y":0.217},{"s":"DeepSRDCF [0.819]","x":3,"y":0.34},{"s":"DeepSRDCF [0.819]","x":4,"y":0.437},{"s":"DeepSRDCF [0.819]","x":5,"y":0.505},{"s":"DeepSRDCF [0.819]","x":6,"y":0.56},{"s":"DeepSRDCF [0.819]","x":8,"y":0.657},{"s":"DeepSRDCF [0.819]","x":10,"y":0.712},{"s":"DeepSRDCF [0.819]","x":12,"y":0.75},{"s":"DeepSRDCF [0.819]","x":15,"y":0.794},{"s":"DeepSRDCF [0.819]","x":20,"y":0.822},{"s":"DeepSRDCF [0.819]","x":25,"y":0.842},{"s":"DeepSRDCF [0.819]","x":30,"y":0.856},{"s":"DeepSRDCF [0.819]","x":35,"y":0.865},{"s":"DeepSRDCF [0.819]","x":40,"y":0.874},{"s":"DeepSRDCF [0.819]","x":45,"y":0.88},{"s":"DeepSRDCF [0.819]","x":50,"y":0.89},
{"s":"SiamRPN [0.841]","x":0,"y":0.01},{"s":"SiamRPN [0.841]","x":1,"y":0.066},{"s":"SiamRPN [0.841]","x":2,"y":0.176},{"s":"SiamRPN [0.841]","x":3,"y":0.286},{"s":"SiamRPN [0.841]","x":4,"y":0.396},{"s":"SiamRPN [0.841]","x":5,"y":0.478},{"s":"SiamRPN [0.841]","x":6,"y":0.533},{"s":"SiamRPN [0.841]","x":8,"y":0.643},{"s":"SiamRPN [0.841]","x":10,"y":0.712},{"s":"SiamRPN [0.841]","x":12,"y":0.76},{"s":"SiamRPN [0.841]","x":15,"y":0.815},{"s":"SiamRPN [0.841]","x":20,"y":0.856},{"s":"SiamRPN [0.841]","x":25,"y":0.874},{"s":"SiamRPN [0.841]","x":30,"y":0.883},{"s":"SiamRPN [0.841]","x":35,"y":0.89},{"s":"SiamRPN [0.841]","x":40,"y":0.897},{"s":"SiamRPN [0.841]","x":45,"y":0.907},{"s":"SiamRPN [0.841]","x":50,"y":0.915},
{"s":"OURS [0.848]","x":0,"y":0.01},{"s":"OURS [0.848]","x":1,"y":0.052},{"s":"OURS [0.848]","x":2,"y":0.148},{"s":"OURS [0.848]","x":3,"y":0.258},{"s":"OURS [0.848]","x":4,"y":0.354},{"s":"OURS [0.848]","x":5,"y":0.423},{"s":"OURS [0.848]","x":6,"y":0.478},{"s":"OURS [0.848]","x":8,"y":0.574},{"s":"OURS [0.848]","x":10,"y":0.657},{"s":"OURS [0.848]","x":12,"y":0.712},{"s":"OURS [0.848]","x":15,"y":0.78},{"s":"OURS [0.848]","x":20,"y":0.849},{"s":"OURS [0.848]","x":25,"y":0.89},{"s":"OURS [0.848]","x":30,"y":0.918},{"s":"OURS [0.848]","x":35,"y":0.934},{"s":"OURS [0.848]","x":40,"y":0.948},{"s":"OURS [0.848]","x":45,"y":0.959},{"s":"OURS [0.848]","x":50,"y":0.968}
]
},
"columns": 2,
"spacing": {"row": 54, "column": 54},
"bounds": "flush",
"resolve": {"scale": {"x": "independent", "y": "independent", "color": "independent", "strokeDash": "independent"}, "axis": {"x": "independent", "y": "independent"}, "legend": {"color": "independent", "strokeDash": "independent"}},
"concat": [
{"width": 297, "height": 243, "title": "Success plots of OPE - fast motion (39)", "data": {"name": "p1"},
 "mark": {"type": "line", "interpolate": "monotone", "strokeWidth": 3.5, "clip": true},
 "encoding": {
  "x": {"field": "x", "type": "quantitative", "scale": {"domain": [0, 1]}, "axis": {"title": "Overlap threshold", "values": [0,0.1,0.2,0.3,0.4,0.5,0.6,0.7,0.8,0.9,1], "format": "~g"}},
  "y": {"field": "y", "type": "quantitative", "scale": {"domain": [0, 1]}, "axis": {"title": "Success rate", "values": [0,0.1,0.2,0.3,0.4,0.5,0.6,0.7,0.8,0.9,1], "format": "~g"}},
  "color": {"field": "s", "type": "nominal", "scale": {"domain": ["OURS [0.655]","DeepSRDCF [0.628]","SiamRPN [0.606]","SRDCF [0.597]","CSR-DCF [0.581]","siamfc3s [0.568]","ACFN [0.564]","cf2camera [0.551]","Staple [0.541]","cf1camera [0.497]"], "range": ["#e8231c","#66c91a","#4646aa","#111111","#cc4fbf","#9edcea","#9a9a9a","#8c1c1c","#f57b1f","#4ea6dc"]}, "legend": {"orient": "bottom-left"}},
  "strokeDash": {"field": "s", "type": "nominal", "scale": {"domain": ["OURS [0.655]","DeepSRDCF [0.628]","SiamRPN [0.606]","SRDCF [0.597]","CSR-DCF [0.581]","siamfc3s [0.568]","ACFN [0.564]","cf2camera [0.551]","Staple [0.541]","cf1camera [0.497]"], "range": [[1,0],[1,0],[1,0],[12,9],[12,9],[12,9],[12,9],[12,9],[12,9],[12,9]]}, "legend": {"orient": "bottom-left"}}
 }},
{"width": 297, "height": 243, "title": "Precision plots of OPE - fast motion (39)", "data": {"name": "p2"},
 "mark": {"type": "line", "interpolate": "monotone", "strokeWidth": 3.5, "clip": true},
 "encoding": {
  "x": {"field": "x", "type": "quantitative", "scale": {"domain": [0, 50]}, "axis": {"title": "Location error threshold", "values": [0,5,10,15,20,25,30,35,40,45,50]}},
  "y": {"field": "y", "type": "quantitative", "scale": {"domain": [0, 1]}, "axis": {"title": "Precision", "values": [0,0.1,0.2,0.3,0.4,0.5,0.6,0.7,0.8,0.9,1], "format": "~g"}},
  "color": {"field": "s", "type": "nominal", "scale": {"domain": ["OURS [0.844]","DeepSRDCF [0.814]","SiamRPN [0.793]","SRDCF [0.769]","CSR-DCF [0.765]","ACFN [0.757]","siamfc3s [0.743]","Staple [0.710]","cf2camera [0.696]","cf1camera [0.620]"], "range": ["#e8231c","#66c91a","#4646aa","#111111","#cc4fbf","#9edcea","#9a9a9a","#8c1c1c","#f57b1f","#4ea6dc"]}, "legend": {"orient": "bottom-right"}},
  "strokeDash": {"field": "s", "type": "nominal", "scale": {"domain": ["OURS [0.844]","DeepSRDCF [0.814]","SiamRPN [0.793]","SRDCF [0.769]","CSR-DCF [0.765]","ACFN [0.757]","siamfc3s [0.743]","Staple [0.710]","cf2camera [0.696]","cf1camera [0.620]"], "range": [[1,0],[1,0],[1,0],[12,9],[12,9],[12,9],[12,9],[12,9],[12,9],[12,9]]}, "legend": {"orient": "bottom-right"}}
 }},
{"width": 297, "height": 243, "title": "Success plots of OPE - occlusion (49)", "data": {"name": "p3"},
 "mark": {"type": "line", "interpolate": "monotone", "strokeWidth": 3.5, "clip": true},
 "encoding": {
  "x": {"field": "x", "type": "quantitative", "scale": {"domain": [0, 1]}, "axis": {"title": "Overlap threshold", "values": [0,0.1,0.2,0.3,0.4,0.5,0.6,0.7,0.8,0.9,1], "format": "~g"}},
  "y": {"field": "y", "type": "quantitative", "scale": {"domain": [0, 1]}, "axis": {"title": "Success rate", "values": [0,0.1,0.2,0.3,0.4,0.5,0.6,0.7,0.8,0.9,1], "format": "~g"}},
  "color": {"field": "s", "type": "nominal", "scale": {"domain": ["OURS [0.630]","DeepSRDCF [0.601]","SiamRPN [0.592]","SRDCF [0.559]","siamfc3s [0.543]","Staple [0.542]","ACFN [0.540]","CSR-DCF [0.534]","cf2camera [0.516]","cf1camera [0.478]"], "range": ["#e8231c","#66c91a","#4646aa","#111111","#cc4fbf","#9edcea","#9a9a9a","#8c1c1c","#f57b1f","#4ea6dc"]}, "legend": {"orient": "bottom-left"}},
  "strokeDash": {"field": "s", "type": "nominal", "scale": {"domain": ["OURS [0.630]","DeepSRDCF [0.601]","SiamRPN [0.592]","SRDCF [0.559]","siamfc3s [0.543]","Staple [0.542]","ACFN [0.540]","CSR-DCF [0.534]","cf2camera [0.516]","cf1camera [0.478]"], "range": [[1,0],[1,0],[1,0],[12,9],[12,9],[12,9],[12,9],[12,9],[12,9],[12,9]]}, "legend": {"orient": "bottom-left"}}
 }},
{"width": 297, "height": 243, "title": "Precision plots of OPE - occlusion (49)", "data": {"name": "p4"},
 "mark": {"type": "line", "interpolate": "monotone", "strokeWidth": 3.5, "clip": true},
 "encoding": {
  "x": {"field": "x", "type": "quantitative", "scale": {"domain": [0, 50]}, "axis": {"title": "Location error threshold", "values": [0,5,10,15,20,25,30,35,40,45,50]}},
  "y": {"field": "y", "type": "quantitative", "scale": {"domain": [0, 1]}, "axis": {"title": "Precision", "values": [0,0.1,0.2,0.3,0.4,0.5,0.6,0.7,0.8,0.9,1], "format": "~g"}},
  "color": {"field": "s", "type": "nominal", "scale": {"domain": ["OURS [0.841]","DeepSRDCF [0.825]","SiamRPN [0.785]","ACFN [0.755]","SRDCF [0.735]","Staple [0.728]","siamfc3s [0.722]","CSR-DCF [0.703]","cf2camera [0.674]","cf1camera [0.619]"], "range": ["#e8231c","#66c91a","#4646aa","#111111","#cc4fbf","#9edcea","#9a9a9a","#8c1c1c","#f57b1f","#4ea6dc"]}, "legend": {"orient": "bottom-right"}},
  "strokeDash": {"field": "s", "type": "nominal", "scale": {"domain": ["OURS [0.841]","DeepSRDCF [0.825]","SiamRPN [0.785]","ACFN [0.755]","SRDCF [0.735]","Staple [0.728]","siamfc3s [0.722]","CSR-DCF [0.703]","cf2camera [0.674]","cf1camera [0.619]"], "range": [[1,0],[1,0],[1,0],[12,9],[12,9],[12,9],[12,9],[12,9],[12,9],[12,9]]}, "legend": {"orient": "bottom-right"}}
 }},
{"width": 297, "height": 243, "title": "Success plots of OPE - scale variation (64)", "data": {"name": "p5"},
 "mark": {"type": "line", "interpolate": "monotone", "strokeWidth": 3.5, "clip": true},
 "encoding": {
  "x": {"field": "x", "type": "quantitative", "scale": {"domain": [0, 1]}, "axis": {"title": "Overlap threshold", "values": [0,0.1,0.2,0.3,0.4,0.5,0.6,0.7,0.8,0.9,1], "format": "~g"}},
  "y": {"field": "y", "type": "quantitative", "scale": {"domain": [0, 1]}, "axis": {"title": "Success rate", "values": [0,0.1,0.2,0.3,0.4,0.5,0.6,0.7,0.8,0.9,1], "format": "~g"}},
  "color": {"field": "s", "type": "nominal", "scale": {"domain": ["OURS [0.629]","SiamRPN [0.624]","DeepSRDCF [0.605]","SRDCF [0.561]","siamfc3s [0.552]","ACFN [0.549]","cf2camera [0.534]","CSR-DCF [0.530]","Staple [0.520]","cf1camera [0.511]"], "range": ["#e8231c","#66c91a","#4646aa","#111111","#cc4fbf","#9edcea","#9a9a9a","#8c1c1c","#f57b1f","#4ea6dc"]}, "legend": {"orient": "bottom-left"}},
  "strokeDash": {"field": "s", "type": "nominal", "scale": {"domain": ["OURS [0.629]","SiamRPN [0.624]","DeepSRDCF [0.605]","SRDCF [0.561]","siamfc3s [0.552]","ACFN [0.549]","cf2camera [0.534]","CSR-DCF [0.530]","Staple [0.520]","cf1camera [0.511]"], "range": [[1,0],[1,0],[1,0],[12,9],[12,9],[12,9],[12,9],[12,9],[12,9],[12,9]]}, "legend": {"orient": "bottom-left"}}
 }},
{"width": 297, "height": 243, "title": "Precision plots of OPE - scale variation (64)", "data": {"name": "p6"},
 "mark": {"type": "line", "interpolate": "monotone", "strokeWidth": 3.5, "clip": true},
 "encoding": {
  "x": {"field": "x", "type": "quantitative", "scale": {"domain": [0, 50]}, "axis": {"title": "Location error threshold", "values": [0,5,10,15,20,25,30,35,40,45,50]}},
  "y": {"field": "y", "type": "quantitative", "scale": {"domain": [0, 1]}, "axis": {"title": "Precision", "values": [0,0.1,0.2,0.3,0.4,0.5,0.6,0.7,0.8,0.9,1], "format": "~g"}},
  "color": {"field": "s", "type": "nominal", "scale": {"domain": ["OURS [0.848]","SiamRPN [0.841]","DeepSRDCF [0.819]","ACFN [0.764]","SRDCF [0.745]","CSR-DCF [0.741]","siamfc3s [0.735]","Staple [0.727]","cf2camera [0.711]","cf1camera [0.688]"], "range": ["#e8231c","#66c91a","#4646aa","#111111","#cc4fbf","#9edcea","#9a9a9a","#8c1c1c","#f57b1f","#4ea6dc"]}, "legend": {"orient": "bottom-right"}},
  "strokeDash": {"field": "s", "type": "nominal", "scale": {"domain": ["OURS [0.848]","SiamRPN [0.841]","DeepSRDCF [0.819]","ACFN [0.764]","SRDCF [0.745]","CSR-DCF [0.741]","siamfc3s [0.735]","Staple [0.727]","cf2camera [0.711]","cf1camera [0.688]"], "range": [[1,0],[1,0],[1,0],[12,9],[12,9],[12,9],[12,9],[12,9],[12,9],[12,9]]}, "legend": {"orient": "bottom-right"}}
 }}
]
}
